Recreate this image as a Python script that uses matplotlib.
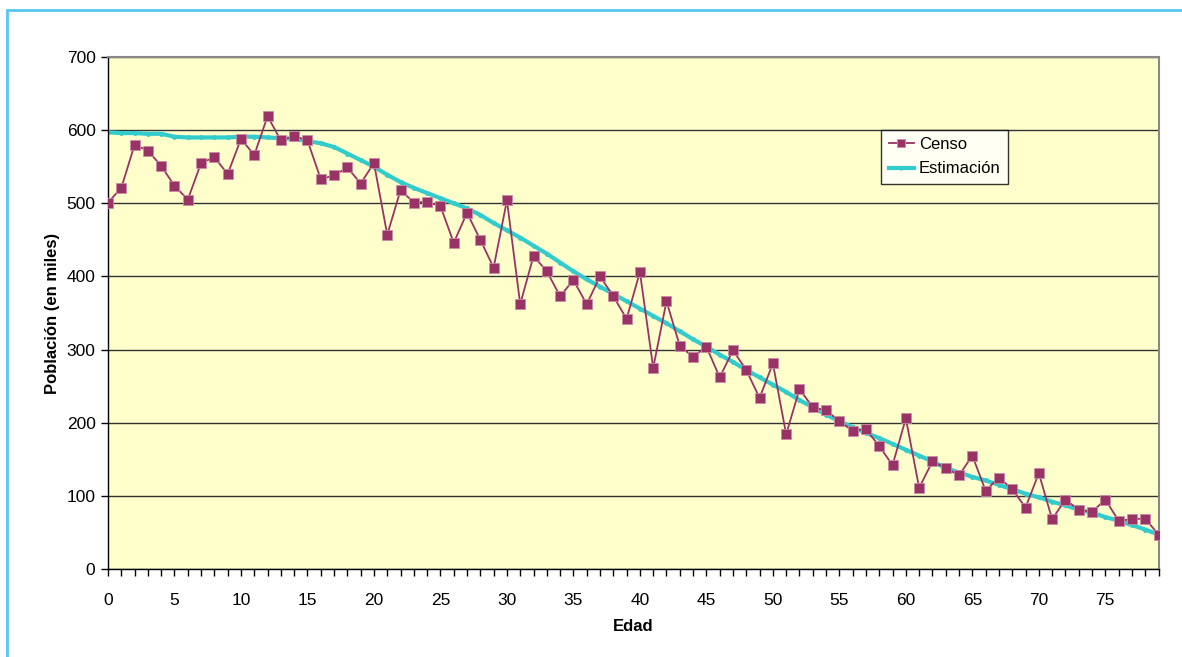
import matplotlib
matplotlib.use("Agg")
import matplotlib.pyplot as plt
from matplotlib.patches import Rectangle

plt.rcParams["font.family"] = ["Liberation Sans", "DejaVu Sans"]

# Edades 0..79
edades = list(range(80))

censo = [
    501, 521, 580, 572, 551, 524, 505, 555, 563, 540,
    588, 566, 619, 586, 592, 586, 533, 538, 549, 527,
    555, 457, 518, 501, 502, 496, 446, 487, 450, 412,
    504, 362, 428, 407, 373, 395, 362, 400, 373, 342,
    406, 275, 366, 305, 290, 304, 262, 299, 272, 234,
    281, 184, 246, 221, 217, 202, 189, 191, 168, 142,
    206, 111, 147, 138, 128, 155, 107, 125, 109, 84,
    131, 68, 95, 81, 78, 95, 66, 68, 69, 47,
]

estimacion = [
    597, 596, 596, 595, 595, 591, 590, 590, 590, 590,
    591, 591, 590, 589, 588, 585, 582, 577, 568, 559,
    550, 539, 529, 521, 514, 507, 500, 493, 484, 473,
    463, 453, 442, 431, 419, 407, 396, 386, 376, 366,
    356, 346, 336, 325, 314, 304, 293, 283, 272, 262,
    252, 242, 231, 221, 211, 202, 194, 186, 179, 171,
    163, 155, 147, 138, 132, 126, 121, 115, 109, 103,
    98, 92, 87, 81, 77, 71, 66, 60, 54, 47,
]

x_ticks = list(range(0, 80, 5))
y_ticks = list(range(0, 701, 100))

fig = plt.figure(figsize=(11.82, 6.57), dpi=100)
# marco exterior azul claro
fig.patches.append(Rectangle((7 / 1182, -0.1), 1.2, 1 - 10 / 657 + 0.1,
                             transform=fig.transFigure, fill=False,
                             edgecolor="#55c8f2", linewidth=2))

ax = fig.add_axes([108 / 1182, 1 - 569 / 657, (1158.5 - 108) / 1182, (569 - 57) / 657])
ax.set_facecolor("#ffffcc")

ax.plot(edades, estimacion, color="#33cccc", linewidth=3, marker="o",
        markersize=2.5, label="Estimación", zorder=2)
ax.plot(edades, censo, color="#993366", linewidth=1.3, marker="s",
        markersize=6.5, markeredgecolor="#c98aa5", markeredgewidth=0.6,
        label="Censo", zorder=3)

ax.set_xlim(0, 79)
ax.set_ylim(0, 700)
ax.set_xticks(x_ticks)
ax.set_xticks(edades, minor=True)
ax.set_yticks(y_ticks)
ax.yaxis.grid(True, color="#333333", linewidth=1)
ax.set_axisbelow(True)

ax.tick_params(axis="both", which="both", direction="out", length=5,
               width=1, colors="black", labelsize=12.5)
ax.tick_params(axis="x", pad=12)
ax.tick_params(axis="y", pad=4)

for side in ("top", "right"):
    ax.spines[side].set_color("#888888")
    ax.spines[side].set_linewidth(1.5)
for side in ("left", "bottom"):
    ax.spines[side].set_color("black")
    ax.spines[side].set_linewidth(1)

ax.set_xlabel("Edad", fontsize=12, fontweight="bold", labelpad=8)
ax.set_ylabel("Población (en miles)", fontsize=12, fontweight="bold", labelpad=5)

handles, labels = ax.get_legend_handles_labels()
leg = ax.legend(handles[::-1], labels[::-1], loc="upper left",
                bbox_to_anchor=(0.736, 0.858), frameon=True, fancybox=False,
                fontsize=12, handlelength=1.5, borderpad=0.45, labelspacing=0.55,
                handletextpad=0.3, borderaxespad=0)
leg.get_frame().set_edgecolor("black")
leg.get_frame().set_facecolor("white")
leg.get_frame().set_linewidth(1)
leg.legend_handles[0].set_markersize(6)
leg.legend_handles[1].set_markersize(2)

fig.savefig("out.png", dpi=100, facecolor="white")
